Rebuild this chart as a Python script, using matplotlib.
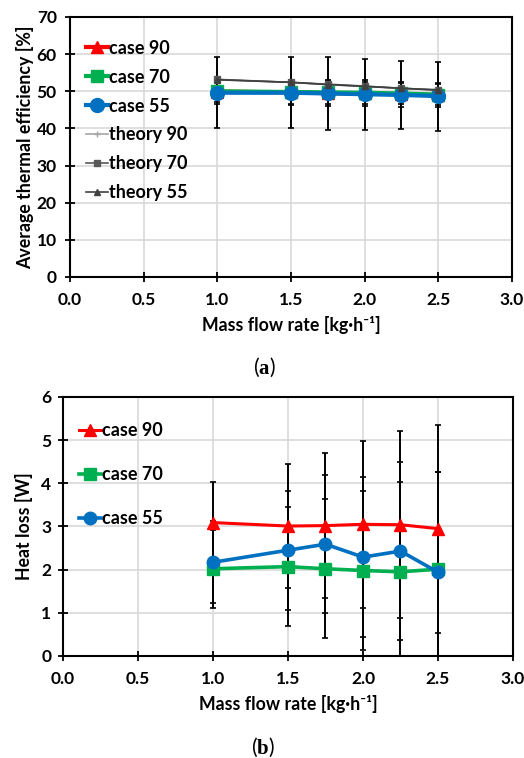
import matplotlib
matplotlib.use("Agg")
import matplotlib.pyplot as plt
from matplotlib.ticker import MultipleLocator, FormatStrFormatter

plt.rcParams['font.family'] = ['Lato', 'DejaVu Sans']
plt.rcParams['mathtext.fontset'] = 'custom'
plt.rcParams['mathtext.rm'] = 'Liberation Serif'
plt.rcParams['mathtext.bf'] = 'Liberation Serif:bold'

# Mass flow rates [kg/h]
flow = [1.0, 1.5, 1.75, 2.0, 2.25, 2.5]

# (a) average thermal efficiency [%]
eff_case90 = [49.9, 49.7, 49.5, 49.4, 49.2, 49.0]
eff_case70 = [50.0, 49.8, 49.7, 49.6, 49.4, 49.1]
eff_case55 = [49.6, 49.6, 49.4, 49.2, 49.0, 48.7]
eff_err90 = [3.4, 3.3, 3.4, 3.5, 3.4, 3.3]
eff_err70 = [2.9, 3.1, 3.0, 3.0, 2.9, 2.8]
eff_err55 = [9.5, 9.6, 9.7, 9.6, 9.2, 9.3]
eff_theory90 = [53.1, 52.4, 51.8, 51.3, 50.8, 50.3]
eff_theory70 = [53.2, 52.4, 51.9, 51.4, 50.8, 50.4]
eff_theory55 = [53.1, 52.4, 51.8, 51.3, 50.8, 50.3]

# (b) heat loss [W]
loss_case90 = [3.09, 3.01, 3.02, 3.05, 3.04, 2.95]
loss_case70 = [2.02, 2.07, 2.02, 1.98, 1.95, 2.01]
loss_case55 = [2.17, 2.45, 2.59, 2.29, 2.43, 1.94]
loss_err90 = [0.95, 1.44, 1.68, 1.93, 2.16, 2.41]
loss_err70 = [0.90, 1.38, 1.61, 1.84, 2.07, 2.25]
loss_err55 = [0.95, 1.38, 1.60, 1.85, 2.06, 2.33]

x_ticks = [0.0, 0.5, 1.0, 1.5, 2.0, 2.5, 3.0]

RED = '#FF0000'
GREEN = '#00B050'
BLUE = '#0070C0'
GRID = '#D9D9D9'

fig = plt.figure(figsize=(5.24, 7.58), dpi=100)
ax1 = fig.add_axes([0.1336, 0.6346, 0.8434, 0.3430])
ax2 = fig.add_axes([0.1202, 0.1346, 0.8588, 0.3417])


def style_axes(ax, ymax, ystep, ypad):
    ax.set_xlim(0, 3.0)
    ax.set_ylim(0, ymax)
    ax.set_xticks(x_ticks)
    ax.xaxis.set_major_formatter(FormatStrFormatter('%.1f'))
    ax.yaxis.set_major_locator(MultipleLocator(ystep))
    ax.grid(True, color=GRID, linewidth=1.2, zorder=0)
    ax.set_axisbelow(True)
    for s in ax.spines.values():
        s.set_linewidth(1.5)
        s.set_color('black')
    ax.tick_params(direction='inout', length=7, width=1.3, labelsize=12.5)
    ax.tick_params(axis='x', pad=7)
    ax.tick_params(axis='y', pad=ypad)
    for lab in ax.get_xticklabels() + ax.get_yticklabels():
        lab.set_fontweight('bold')
    ax.set_xlabel('Mass flow rate [kg·h\u207b\u00b9]', fontsize=12.8,
                  fontweight='bold', labelpad=6)


def error_bars(ax, y, e):
    ax.errorbar(flow, y, yerr=e, fmt='none', ecolor='black', elinewidth=1.4,
                capsize=2, capthick=1.2, zorder=2)


# ---- (a) thermal efficiency ----
style_axes(ax1, 70, 10, 6)
error_bars(ax1, eff_case90, eff_err90)
error_bars(ax1, eff_case70, eff_err70)
error_bars(ax1, eff_case55, eff_err55)
ax1.plot(flow, eff_case90, color=RED, marker='^', ms=9, lw=3,
         label='case 90', zorder=3)
ax1.plot(flow, eff_case70, color=GREEN, marker='s', ms=9, lw=3,
         label='case 70', zorder=3)
ax1.plot(flow, eff_case55, color=BLUE, marker='o', ms=10, lw=3,
         label='case 55', zorder=3)
ax1.plot(flow, eff_theory90, color='#A6A6A6', marker='+', ms=5, lw=1.2,
         label='theory 90', zorder=4)
ax1.plot(flow, eff_theory70, color='#595959', marker='s', ms=5, lw=1.2,
         label='theory 70', zorder=4)
ax1.plot(flow, eff_theory55, color='#404040', marker='^', ms=4, lw=1.2,
         label='theory 55', zorder=4)
ax1.set_ylabel('Average thermal efficiency [%]', fontsize=12.8,
               fontweight='bold', labelpad=2)
ax1.legend(loc='upper left', bbox_to_anchor=(0.0, 0.975), frameon=False,
           handlelength=1.2, handletextpad=0.05, labelspacing=0.66,
           borderaxespad=0.5, prop={'weight': 'bold', 'size': 13})

# ---- (b) heat loss ----
style_axes(ax2, 6, 1, 5)
error_bars(ax2, loss_case90, loss_err90)
error_bars(ax2, loss_case70, loss_err70)
error_bars(ax2, loss_case55, loss_err55)
ax2.plot(flow, loss_case90, color=RED, marker='^', ms=8, lw=2.2,
         label='case 90', zorder=3)
ax2.plot(flow, loss_case70, color=GREEN, marker='s', ms=8, lw=2.6,
         label='case 70', zorder=3)
ax2.plot(flow, loss_case55, color=BLUE, marker='o', ms=9, lw=2.6,
         label='case 55', zorder=3)
ax2.set_ylabel('Heat loss [W]', fontsize=12.8, fontweight='bold', labelpad=6)
ax2.legend(loc='upper left', bbox_to_anchor=(0.0, 0.965), frameon=False,
           handlelength=1.2, handletextpad=0.05, labelspacing=1.5,
           borderaxespad=0.5, prop={'weight': 'bold', 'size': 13})

# panel captions
fig.text(0.504, 1 - 367 / 758, r'($\mathbf{a}$)', ha='center', va='center',
         fontsize=15)
fig.text(0.502, 1 - 747 / 758, r'($\mathbf{b}$)', ha='center', va='center',
         fontsize=15)

fig.savefig('out.png', dpi=100, facecolor='white')
